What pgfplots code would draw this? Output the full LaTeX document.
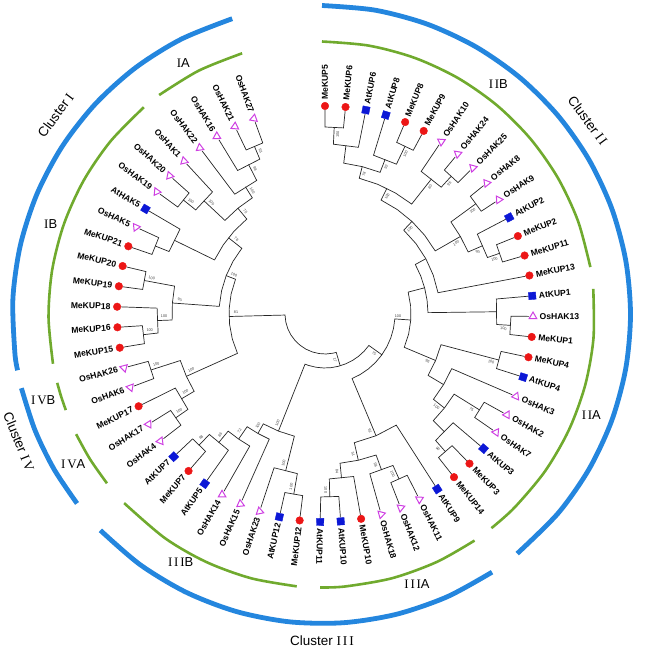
\documentclass[border=0pt]{standalone}
\usepackage{pgfplots}
\pgfplotsset{compat=1.18}
\usepgfplotslibrary{polar}
\usepackage{fontspec}
\setmainfont{Liberation Sans}
\newfontfamily\numfont[LetterSpace=14]{Liberation Serif}
\definecolor{cblue}{RGB}{36,134,222}
\definecolor{cgreen}{RGB}{112,170,46}
\definecolor{mered}{RGB}{236,22,22}
\definecolor{atblue}{RGB}{12,24,214}
\definecolor{osmag}{RGB}{206,64,226}
\pgfplotsset{
  tree/.style={black!85, line width=0.7bp, mark=none, data cs=polar},
  blarc/.style={cblue, line width=4.8bp, mark=none, data cs=polar, smooth, xshift=-3.5bp, yshift=-0.5bp},
  grarc/.style={cgreen, line width=2.6bp, mark=none, data cs=polar, smooth, xshift=-3.5bp, yshift=-0.5bp},
}
\newcommand{\br}[1]{\addplot[tree] coordinates {#1};}
\newcommand{\At}[1]{\addplot[only marks, data cs=polar, mark=square*, mark size=3.6bp, atblue, mark options={rotate=#1}] coordinates {(#1,208)};}
\newcommand{\Os}[1]{\addplot[only marks, data cs=polar, mark=triangle, mark size=4.4bp, osmag, line width=1bp, mark options={rotate=#1}] coordinates {(#1,208)};}
\tikzset{lbl/.style={font=\bfseries\fontsize{8.6}{10}\selectfont, inner sep=0pt},
  clu/.style={font=\fontsize{13.5}{15}\selectfont, inner sep=0pt},
  sub/.style={font=\fontsize{13}{15}\selectfont, inner sep=0pt}}
\begin{document}
\begin{tikzpicture}
\begin{axis}[x=1bp, y=1bp, xmin=-325, xmax=326, ymin=-339, ymax=314, hide axis, clip=false]
\coordinate (O) at (axis cs:0,0);
% cluster arcs
\addplot[blarc] coordinates {(106.8,309)(117,309)(127,309)(137,309)(147,309)(157,309)(167,309)(177,309)(187,309)(190.4,309)};
\addplot[blarc] coordinates {(89.9,309)(80,309)(70,309)(60,309)(50,309)(40,309)(30,309)(20,309)(10,309)(0,309)(-10,309)(-20,309)(-30,309)(-40,309)(-50.7,309)};
\addplot[blarc] coordinates {(-56.5,309)(-66,309)(-76,309)(-86,309)(-96,309)(-106,309)(-116,309)(-126,309)(-135.7,309)};
\addplot[blarc] coordinates {(-142.3,309)(-150,309)(-158,309)(-166.2,309)};
\addplot[grarc] coordinates {(106.9,273)(116.7,273)(126.5,273)};
\addplot[grarc] coordinates {(130.6,273)(140.6,273)(150.6,273)(160.6,273)(170.6,273)(180.6,273)(190.4,273)};
\addplot[grarc] coordinates {(89.9,273)(80,273)(70,273)(60,273)(50,273)(40,273)(30,273)(20,273)(10,273)};
\addplot[grarc] coordinates {(5.4,273)(-5,273)(-15,273)(-25,273)(-35,273)(-45,273)(-51.5,273)};
\addplot[grarc] coordinates {(-55.9,273)(-65,273)(-75,273)(-85,273)(-90.3,273)};
\addplot[grarc] coordinates {(-95.2,273)(-105,273)(-115,273)(-125,273)(-136.3,273)};
\addplot[grarc] coordinates {(-141.8,273)(-148,273)(-154,273)};
\addplot[grarc] coordinates {(-159.5,273)(-162.5,273)(-165.5,273)};
% ---- tree: cluster II
\br{(90,204)(90,187)(84.333,187)(84.333,204)}
\br{(87.17,187)(87.17,170)(78.667,170)(78.667,204)}
\br{(67.333,204)(67.333,186)(61.667,186)(61.667,204)}
\br{(73,204)(73,166)(64.5,166)(64.5,186)}
\br{(82.92,170)(82.92,152)(75.83,152)(68.75,152)(68.75,166)}
\br{(50.333,204)(50.333,187)(44.667,187)(44.667,204)}
\br{(56,204)(56,172)(47.5,172)(47.5,187)}
\br{(75.83,152)(75.83,140)(67.8,140)(59.8,140)(51.75,140)(51.75,172)}
\br{(39,204)(39,187)(33.333,187)(33.333,204)}
\br{(22,204)(22,185)(16.333,185)(16.333,204)}
\br{(27.667,204)(27.667,172)(19.17,172)(19.17,185)}
\br{(36.17,187)(36.17,156)(29.79,156)(23.42,156)(23.42,172)}
\br{(63.79,140)(63.79,127)(55.3,127)(46.8,127)(38.3,127)(29.79,127)(29.79,156)}
\br{(46.79,127)(46.79,115)(37.8,115)(28.7,115)(19.7,115)(10.667,115)(10.667,204)}
\br{(-0.667,204)(-0.667,186)(-6.333,186)(-6.333,204)}
\br{(5,204)(5,172)(-3.5,172)(-3.5,186)}
\br{(28.73,115)(28.73,103)(21.7,103)(14.7,103)(7.7,103)(0.75,103)(0.75,172)}
\br{(-12,204)(-12,180)(-17.667,180)(-17.667,204)}
\br{(-29,204)(-29,182)(-34.667,182)(-34.667,204)}
\br{(-46,204)(-46,183)(-51.667,183)(-51.667,204)}
\br{(-40.333,204)(-40.333,168)(-48.83,168)(-48.83,183)}
\br{(-31.83,182)(-31.83,152)(-38.21,152)(-44.58,152)(-44.58,168)}
\br{(-23.333,204)(-23.333,138)(-30.77,138)(-38.21,138)(-38.21,152)}
\br{(-14.83,180)(-14.83,120)(-22.8,120)(-30.77,120)(-30.77,138)}
\br{(14.74,103)(14.74,86)(5.4,86)(-4.03,86)(-13.4,86)(-22.8,86)(-22.8,120)}
% ---- cluster III
\br{(-85.667,204)(-85.667,183)(-91.333,183)(-91.333,204)}
\br{(-80,204)(-80,165)(-88.5,165)(-88.5,183)}
\br{(-63,204)(-63,181)(-68.667,181)(-68.667,204)}
\br{(-74.333,204)(-74.333,166)(-65.83,166)(-65.83,181)}
\br{(-84.25,165)(-84.25,150)(-77.17,150)(-70.08,150)(-70.08,166)}
\br{(-57.333,204)(-57.333,132)(-67.25,132)(-77.17,132)(-77.17,150)}
\br{(-4.03,86)(-4.03,70)(-12,70)(-20,70)(-28,70)(-36,70)(-44,70)(-52,70)(-60,70)(-67.25,70)(-67.25,132)}
\br{(-97,204)(-97,183)(-102.667,183)(-102.667,204)}
\br{(-108.333,204)(-108.333,162)(-99.83,162)(-99.83,183)}
\br{(-131,204)(-131,182)(-136.667,182)(-136.667,204)}
\br{(-125.333,204)(-125.333,167)(-133.83,167)(-133.83,182)}
\br{(-119.667,204)(-119.667,152)(-124.6,152)(-129.58,152)(-129.58,167)}
\br{(-114,204)(-114,137)(-119.31,137)(-124.63,137)(-124.63,152)}
\br{(-119.31,137)(-119.31,126)(-111.7,126)(-104.08,126)(-104.08,162)}
\br{(-35.64,70)(-35.64,54)(-43.6,54)(-51.6,54)(-59.6,54)(-67.6,54)(-75.6,54)(-83.6,54)(-91.6,54)(-99.6,54)(-107.6,54)(-111.7,54)(-111.7,126)}
% ---- cluster IV
\br{(-159.333,204)(-159.333,183)(-165,183)(-165,204)}
\br{(-142.333,204)(-142.333,182)(-148,182)(-148,204)}
\br{(-153.667,204)(-153.667,167)(-145.17,167)(-145.17,182)}
\br{(-162.17,183)(-162.17,152)(-155.8,152)(-149.42,152)(-149.42,167)}
% ---- cluster I
\br{(183.667,204)(183.667,183)(189.333,183)(189.333,204)}
\br{(178,204)(178,168)(186.5,168)(186.5,183)}
\br{(166.667,204)(166.667,184)(172.333,184)(172.333,204)}
\br{(169.5,184)(169.5,153)(175.88,153)(182.25,153)(182.25,168)}
\br{(161,204)(161,183)(155.333,183)(155.333,204)}
\br{(158.17,183)(158.17,168)(149.667,168)(149.667,204)}
\br{(144,204)(144,182)(138.333,182)(138.333,204)}
\br{(141.17,182)(141.17,166)(132.667,166)(132.667,204)}
\br{(115.667,204)(115.667,182)(110,182)(110,204)}
\br{(121.333,204)(121.333,168)(112.83,168)(112.83,182)}
\br{(127,204)(127,150)(117.08,150)(117.08,168)}
\br{(136.92,166)(136.92,137)(129.48,137)(122.04,137)(122.04,150)}
\br{(153.92,168)(153.92,123)(145.8,123)(137.6,123)(129.48,123)(129.48,137)}
\br{(141.7,123)(141.7,106)(150.2,106)(158.8,106)(167.3,106)(175.88,106)(175.88,153)}
\br{(158.79,106)(158.79,96)(167.9,96)(177,96)(186,96)(195.1,96)(204.21,96)(204.21,152)}
% ---- root
\br{(181.5,96)(181.5,40)(191.5,40)(201.5,40)(211.5,40)(221.5,40)(231.5,40)(241.5,40)(251.5,40)(261.5,40)(271.5,40)(281.5,40)(286.33,40)(286.33,54)}
% ---- markers
\addplot[only marks, data cs=polar, mark=*, mark size=3.8bp, mered] coordinates {(90,208)(84.333,208)(67.333,208)(61.667,208)(22,208)(16.333,208)(10.667,208)(-6.333,208)(-12,208)(-46,208)(-51.667,208)(-80,208)(-97,208)(-131,208)(-153.667,208)(189.333,208)(183.667,208)(178,208)(172.333,208)(166.667,208)(161,208)};
\At{78.667}\At{73}\At{27.667}\At{5}\At{-17.667}\At{-40.333}\At{-57.333}\At{-85.667}\At{-91.333}\At{-102.667}\At{-125.333}\At{-136.667}\At{149.667}
\Os{56}\Os{50.333}\Os{44.667}\Os{39}\Os{33.333}\Os{-0.667}\Os{-23.333}\Os{-29}\Os{-34.667}\Os{-63}\Os{-68.667}\Os{-74.333}\Os{-108.333}\Os{-114}\Os{-119.667}\Os{-142.333}\Os{-148}\Os{-159.333}\Os{-165}\Os{155.333}\Os{144}\Os{138.333}\Os{132.667}\Os{127}\Os{121.333}\Os{115.667}\Os{110}
\end{axis}
% leaf labels
\foreach \a/\n in {90/MeKUP5, 84.333/MeKUP6, 78.667/AtKUP6, 73/AtKUP8, 67.333/MeKUP8, 61.667/MeKUP9, 56/OsHAK10, 50.333/OsHAK24, 44.667/OsHAK25, 39/OsHAK8, 33.333/OsHAK9, 27.667/AtKUP2, 22/MeKUP2, 16.333/MeKUP11, 10.667/MeKUP13, 5/AtKUP1, -0.667/OsHAK13, -6.333/MeKUP1, -12/MeKUP4, -17.667/AtKUP4, -23.333/OsHAK3, -29/OsHAK2, -34.667/OsHAK7, -40.333/AtKUP3, -46/MeKUP3, -51.667/MeKUP14, -57.333/AtKUP9, -63/OsHAK11, -68.667/OsHAK12, -74.333/OsHAK18, -80/MeKUP10, -85.667/AtKUP10, -91.333/AtKUP11}
  {\path (O) ++(\a:214.5bp) node[lbl, rotate=\a, anchor=west] {\n};}
\foreach \a/\n in {-97/MeKUP12, -102.667/AtKUP12, -108.333/OsHAK23, -114/OsHAK15, -119.667/OsHAK14, -125.333/AtKUP5, -131/MeKUP7, -136.667/AtKUP7, -142.333/OsHAK4, -148/OsHAK17, -153.667/MeKUP17, -159.333/OsHAK6, -165/OsHAK26, 189.333/MeKUP15, 183.667/MeKUP16, 178/MeKUP18, 172.333/MeKUP19, 166.667/MeKUP20, 161/MeKUP21, 155.333/OsHAK5, 149.667/AtHAK5, 144/OsHAK19, 138.333/OsHAK20, 132.667/OsHAK1, 127/OsHAK22, 121.333/OsHAK16, 115.667/OsHAK21, 110/OsHAK27}
  {\path (O) ++(\a:214.5bp) node[lbl, rotate=\a+180, anchor=east] {\n};}
% bootstrap values
\foreach \a/\r/\v in {87.17/187/100, 68.75/166/92, 64.5/186/100, 75.83/152/78, 63.79/140/100, 51.75/172/80, 47.5/187/95, 36.17/187/100, 29.79/156/100, 23.42/172/93, 19.17/185/100, 46.79/127/100, 1/80/100, -3.5/186/100, -14.83/180/100, -22.8/120/96, -31.83/182/75, -38.21/152/100, -48.83/183/90, -35.64/70/75, -67.25/132/92, -77.17/150/51, -70.08/166/98, -65.83/181/100, -84.25/165/84, -88.5/183/100, -73.67/54/17, -99.83/183/100, -104.08/162/100, -111.7/126/100, -119.31/137/100, -124.63/152/72, -129.58/167/86, -133.83/182/88, -155.8/152/100, -149.42/167/100, -145.17/182/100, -162.17/183/100, 186.5/183/100, 182.25/168/100, 169.5/184/100, 175.88/153/93, 181.5/96/81, 158.79/106/100, 141.7/123/78, 141.17/182/100, 136.92/166/100, 129.48/137/75, 122.04/150/100, 117.08/168/88, 112.83/182/93}
  {\pgfmathsetmacro\aa{\a-4/\r*57.3}
   \pgfmathsetmacro\rr{\r-7}
   \pgfmathsetmacro\rot{cos(\a)>=0 ? \a : \a+180}
   \path (O) ++(\aa:\rr bp) node[font=\fontsize{3.8}{4}\selectfont, text=black!75, inner sep=0pt, rotate=\rot] {\v};}
% cluster labels
\path (O) ++(-269.3bp,199bp) node[clu, rotate=53.6] {Cluster {\numfont I}};
\path (O) ++(263bp,193.3bp) node[clu, rotate=-53.7] {Cluster {\numfont II}};
\path (O) ++(-3bp,-326.7bp) node[clu] {Cluster {\numfont III}};
\path (O) ++(-306bp,-127.5bp) node[clu, rotate=-68] {Cluster {\numfont IV}};
% subgroup labels
\path (O) ++(-141.7bp,250.7bp) node[sub] {{\numfont I}A};
\path (O) ++(-274.3bp,90.3bp) node[sub] {{\numfont I}B};
\path (O) ++(173.3bp,230.3bp) node[sub] {{\numfont II}B};
\path (O) ++(266.3bp,-101.3bp) node[sub] {{\numfont II}A};
\path (O) ++(92bp,-270bp) node[sub] {{\numfont III}A};
\path (O) ++(-144.3bp,-248.3bp) node[sub] {{\numfont III}B};
\path (O) ++(-251.7bp,-150bp) node[sub] {{\numfont IV}A};
\path (O) ++(-281.7bp,-86.3bp) node[sub] {{\numfont IV}B};
\pgfresetboundingbox
\path[use as bounding box] (O) ++(-325bp,-339bp) rectangle ++(651bp,653bp);
\end{tikzpicture}
\end{document}
